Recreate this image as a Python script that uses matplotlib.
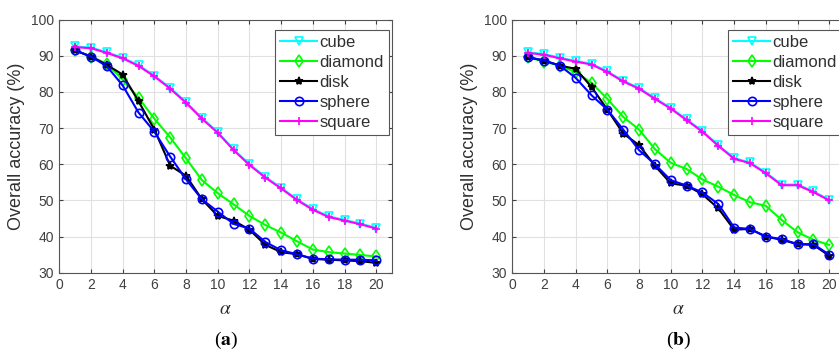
import numpy as np
import matplotlib.pyplot as plt

plt.rcParams['font.family'] = ['Liberation Sans', 'DejaVu Sans']
plt.rcParams['mathtext.fontset'] = 'stix'

alpha = list(range(1, 21))

# panel (a)
a_cube = [92.6, 92.3, 91.0, 89.5, 87.4, 84.5, 81.1, 77.2, 72.8, 68.9,
          64.1, 60.0, 56.5, 53.5, 50.3, 47.6, 45.6, 44.6, 43.6, 42.4]
a_diamond = [91.5, 89.8, 87.8, 83.4, 78.4, 72.6, 67.4, 61.6, 55.6, 52.0,
             48.9, 45.7, 43.2, 41.1, 38.7, 36.4, 35.7, 35.3, 34.9, 34.5]
a_disk = [91.5, 89.8, 87.5, 84.8, 77.4, 69.6, 59.6, 56.8, 50.3, 45.7,
          44.4, 41.9, 37.7, 35.7, 35.1, 33.8, 33.6, 33.4, 33.2, 32.7]
a_sphere = [91.5, 89.8, 87.1, 81.8, 74.3, 69.0, 62.1, 55.8, 50.3, 46.9,
            43.5, 42.2, 38.5, 36.2, 35.1, 33.9, 33.7, 33.6, 33.6, 33.4]
a_square = [92.4, 92.1, 90.8, 89.3, 87.2, 84.3, 80.9, 77.0, 72.6, 68.7,
            63.9, 59.8, 56.3, 53.3, 50.1, 47.4, 45.4, 44.4, 43.4, 42.2]

# panel (b)
b_cube = [91.0, 90.5, 89.5, 88.6, 87.8, 85.7, 83.1, 81.1, 78.3, 75.6,
          72.4, 69.2, 65.3, 61.7, 60.5, 57.7, 54.4, 54.4, 52.5, 50.2]
b_diamond = [89.6, 88.4, 87.3, 85.5, 82.5, 78.1, 73.1, 69.6, 64.2, 60.4,
             58.7, 55.8, 53.8, 51.5, 49.5, 48.5, 44.6, 41.2, 39.1, 37.7]
b_disk = [89.6, 88.7, 87.3, 86.4, 81.4, 75.1, 68.5, 65.3, 59.6, 54.7,
          54.1, 51.7, 47.8, 41.9, 42.1, 40.0, 39.1, 37.9, 37.7, 34.7]
b_sphere = [89.6, 88.7, 87.3, 83.9, 79.1, 75.1, 69.6, 63.9, 60.0, 55.6,
            54.1, 52.2, 49.0, 42.5, 42.1, 40.0, 39.3, 37.9, 37.9, 35.0]
b_square = [90.8, 90.3, 89.3, 88.4, 87.6, 85.5, 82.9, 80.9, 78.1, 75.4,
            72.2, 69.0, 65.1, 61.5, 60.3, 57.5, 54.2, 54.2, 52.3, 50.0]

names = ['cube', 'diamond', 'disk', 'sphere', 'square']
colors = ['#00ffff', '#00ff00', '#000000', '#0000ff', '#ff00ff']
markers = ['v', 'd', '*', 'o', '+']
panels = [
    ([a_cube, a_diamond, a_disk, a_sphere, a_square], 'a'),
    ([b_cube, b_diamond, b_disk, b_sphere, b_square], 'b'),
]

fig = plt.figure(figsize=(8.39, 3.56), dpi=100)
lefts = [0.0707, 0.6106]
tick_col = '#404040'

for left, (series, tag) in zip(lefts, panels):
    ax = fig.add_axes([left, 0.234, 0.3966, 0.7107])
    for vals, name, c, m in zip(series, names, colors, markers):
        face = c if m == '*' else 'none'
        ax.plot(alpha, vals, color=c, marker=m, markersize=6, mfc=face,
                mec=c, mew=1.2, linewidth=1.5, label=name)
    ax.set_xlim(0, 21)
    ax.set_ylim(30, 100)
    ax.set_xticks(range(0, 21, 2))
    ax.set_yticks(range(30, 101, 10))
    ax.grid(True, color='#e0e0e0', linewidth=0.8)
    ax.set_axisbelow(True)
    ax.tick_params(direction='in', top=True, right=True, length=3,
                   labelsize=10, colors=tick_col, labelcolor=tick_col, pad=4)
    for s in ax.spines.values():
        s.set_color('#555555')
        s.set_linewidth(0.8)
    ax.set_ylabel('Overall accuracy (%)', fontsize=13, color='#303030', labelpad=4)
    ax.set_xlabel(r'$\alpha$', fontsize=14, color='#303030', labelpad=6)
    leg = ax.legend(loc='upper right', bbox_to_anchor=(0.99, 0.96),
                    fontsize=12, handlelength=2.2, handletextpad=0.15,
                    borderpad=0.3, labelspacing=0.3, fancybox=False,
                    framealpha=1, borderaxespad=0.0)
    leg.get_frame().set_edgecolor('#555555')
    leg.get_frame().set_linewidth(0.8)
    for t in leg.get_texts():
        t.set_color('#303030')
    ax.text(0.5, -0.266, r'($\mathbf{' + tag + r'}$)', transform=ax.transAxes,
            ha='center', va='center', fontsize=14, family='Liberation Serif')

fig.savefig('out.png', dpi=100)
